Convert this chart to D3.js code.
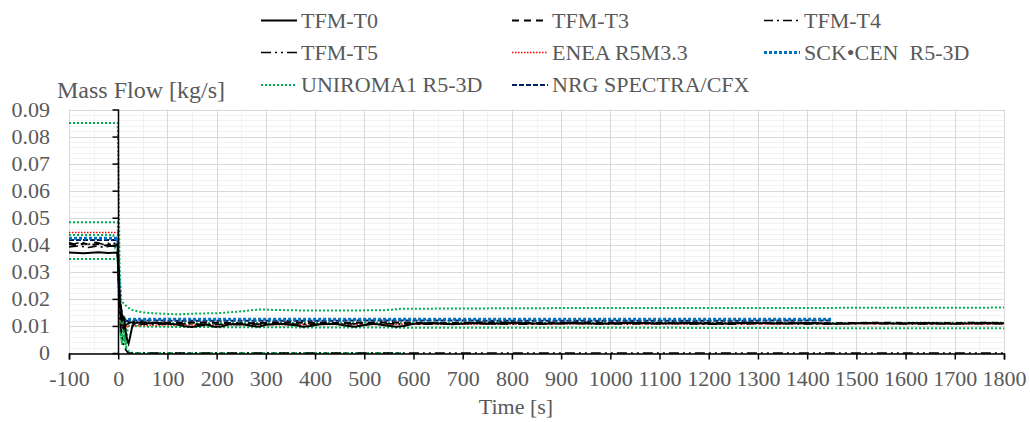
<!DOCTYPE html>
<html>
<head>
<meta charset="utf-8">
<title>Mass Flow</title>
<script src="https://cdn.jsdelivr.net/npm/d3@7"></script>
<style>
  body { margin: 0; background: #fff; }
</style>
</head>
<body>
<script>
// ticks
var xTicks = [-100, 0, 100, 200, 300, 400, 500, 600, 700, 800, 900, 1000, 1100, 1200, 1300, 1400, 1500, 1600, 1700, 1800];
var yTicks = [0, 0.01, 0.02, 0.03, 0.04, 0.05, 0.06, 0.07, 0.08, 0.09];

// series values [time s, mass flow kg/s]
var tfmT0 = [[-100,0.0371],[-70,0.0369],[-40,0.0372],[-20,0.0370],[-2,0.0371],[1,0.030],[3,0.0195],[6,0.0165],[9,0.012],[12,0.0135],[15,0.008],[18,0.005],[21,0.0035],[24,0.0058],[28,0.0094],[32,0.0108],[40,0.0113],[60,0.0110],[80,0.0112],[100,0.0108],[120,0.0105],[135,0.0099],[150,0.0096],[165,0.0101],[180,0.0105],[195,0.0097],[210,0.0098],[225,0.0106],[250,0.0107],[270,0.0101],[285,0.0097],[300,0.0104],[330,0.0108],[360,0.0103],[375,0.0097],[390,0.0100],[410,0.0106],[440,0.0108],[465,0.0101],[480,0.0097],[495,0.0102],[520,0.0108],[545,0.0102],[565,0.0097],[580,0.0100],[600,0.0108],[640,0.0111],[680,0.0106],[720,0.0111],[760,0.0108],[800,0.0112],[860,0.0108],[920,0.0111],[980,0.0108],[1040,0.0112],[1100,0.0109],[1160,0.0111],[1220,0.0108],[1280,0.0112],[1340,0.0109],[1400,0.0111],[1460,0.0108],[1520,0.0111],[1580,0.0109],[1640,0.0111],[1700,0.0108],[1760,0.0111],[1800,0.0110]];
var tfmT3 = [[-100,0.0402],[-85,0.0398],[-70,0.0405],[-55,0.0399],[-40,0.0404],[-25,0.0397],[-10,0.0403],[-1,0.0400],[2,0.022],[6,0.013],[10,0.009],[14,0.0115],[20,0.0112],[40,0.0114],[80,0.0111],[150,0.0113],[250,0.0110],[350,0.0113],[450,0.0111],[550,0.0113],[650,0.0110],[750,0.0113],[850,0.0111],[950,0.0113],[1050,0.0110],[1150,0.0112],[1250,0.0110],[1350,0.0112],[1450,0.0110],[1550,0.0112],[1650,0.0110],[1750,0.0112],[1800,0.0111]];
var tfmT4 = [[-100,0.0392],[-80,0.0396],[-60,0.0390],[-45,0.0395],[-30,0.0391],[-15,0.0396],[-1,0.0393],[2,0.020],[6,0.012],[10,0.0085],[15,0.0105],[22,0.0109],[50,0.0106],[120,0.0108],[220,0.0105],[320,0.0108],[420,0.0106],[520,0.0109],[620,0.0106],[720,0.0109],[820,0.0106],[920,0.0109],[1020,0.0107],[1120,0.0109],[1220,0.0106],[1320,0.0109],[1420,0.0107],[1520,0.0109],[1620,0.0107],[1720,0.0109],[1800,0.0108]];
var tfmT5 = [[-100,0.0408],[-90,0.0403],[-75,0.0410],[-60,0.0402],[-45,0.0409],[-30,0.0401],[-15,0.0407],[-1,0.0404],[2,0.016],[6,0.008],[12,0.002],[20,0],[1800,0]];
var enea = [[-100,0.0445],[-1,0.0445],[1,0.030],[4,0.016],[8,0.0095],[14,0.0098],[25,0.0101],[80,0.0103],[200,0.0104],[400,0.0105],[600,0.0106],[900,0.0107],[1200,0.0107],[1500,0.0108],[1800,0.0107]];
var sckcen = [[-100,0.0424],[-1,0.0424],[1,0.030],[4,0.018],[8,0.013],[14,0.0123],[30,0.0125],[200,0.0125],[600,0.0125],[1000,0.0125],[1450,0.0125]];
var nrg = [[-100,0.0418],[-1,0.0418],[1,0.028],[4,0.016],[8,0.012],[15,0.0118],[40,0.0120],[200,0.0119],[600,0.0120],[1000,0.0119],[1450,0.0120]];
var uniA = [[-100,0.0850],[-1,0.0850],[1,0.060],[3,0.030],[6,0.020],[10,0.0185],[14,0.0178],[20,0.0168],[30,0.0158],[50,0.0150],[80,0.0146],[120,0.0143],[160,0.0146],[200,0.0147],[240,0.0152],[270,0.0158],[290,0.0161],[320,0.0159],[380,0.0157],[450,0.0157],[540,0.0158],[580,0.0164],[640,0.0164],[760,0.0165],[900,0.0166],[1100,0.0166],[1300,0.0166],[1500,0.0167],[1700,0.0167],[1800,0.0168]];
var uniB = [[-100,0.0483],[-1,0.0483],[1,0.032],[4,0.015],[7,0.006],[10,0.014],[13,0.004],[17,0.012],[22,0.0112],[40,0.0114],[100,0.0110],[300,0.0111],[600,0.0112],[900,0.0111],[1200,0.0112],[1500,0.0111],[1800,0.0112]];
var uniC = [[-100,0.0436],[-10,0.0436],[-6,0.0392],[-3,0.0402],[-1,0.0388],[1,0.025],[4,0.009],[8,0.003],[12,0.010],[16,0.0015],[20,0.011],[30,0.0100],[60,0.0097],[150,0.0096],[300,0.0095],[500,0.0094],[800,0.0093],[1100,0.0093],[1400,0.0092],[1800,0.0091]];
var uniD = [[-100,0.0347],[-1,0.0347],[1,0.020],[4,0.008],[8,0.0035],[12,0.007],[16,0.002],[22,0.0005],[30,0],[580,0]];

var series = [
  {name: "TFM-T0", data: tfmT0, color: "#000000", width: 2, dash: null},
  {name: "TFM-T3", data: tfmT3, color: "#000000", width: 2, dash: "7,5"},
  {name: "TFM-T4", data: tfmT4, color: "#000000", width: 1.6, dash: "9,4,2,4"},
  {name: "TFM-T5", data: tfmT5, color: "#000000", width: 1.6, dash: "10,4,2,4,2,4"},
  {name: "ENEA R5M3.3", data: enea, color: "#ff0000", width: 1.5, dash: "1.5,1.5"},
  {name: "SCK\u2022CEN  R5-3D", data: sckcen, color: "#0070c0", width: 3, dash: "3,2"},
  {name: "UNIROMA1 R5-3D", data: uniA, color: "#00b050", width: 2, dash: "2,2"},
  {name: "NRG SPECTRA/CFX", data: nrg, color: "#002060", width: 2, dash: "5,2"},
  {name: null, data: uniB, color: "#00b050", width: 2, dash: "2,2"},
  {name: null, data: uniC, color: "#00b050", width: 2, dash: "2,2"},
  {name: null, data: uniD, color: "#00b050", width: 2, dash: "2,2"}
];
// legend order (3 columns)
var legendOrder = ["TFM-T0", "TFM-T3", "TFM-T4", "TFM-T5", "ENEA R5M3.3", "SCK\u2022CEN  R5-3D", "UNIROMA1 R5-3D", "NRG SPECTRA/CFX"];

var FONT = "'Liberation Serif'";
var TXT = "#595959";
var W = 1030, H = 422;
var svg = d3.select("body").append("svg").attr("width", W).attr("height", H);

var x = d3.scaleLinear().domain([-100, 1800]).range([69, 1004]);
var y = d3.scaleLinear().domain([0, 0.09]).range([353, 109.5]);

// minor grid
var minorX = d3.range(-50, 1800, 100);
var minorY = d3.range(0.002, 0.09, 0.002).filter(function(v){ return Math.abs(v*100 - Math.round(v*100)) > 1e-6; });
svg.append("g").selectAll("line").data(minorY).enter().append("line")
  .attr("x1", x(-100)).attr("x2", x(1800))
  .attr("y1", function(d){ return Math.round(y(d)) + 0.5; })
  .attr("y2", function(d){ return Math.round(y(d)) + 0.5; })
  .attr("stroke", "#f2f2f2");
svg.append("g").selectAll("line").data(minorX).enter().append("line")
  .attr("x1", function(d){ return Math.round(x(d)) + 0.5; })
  .attr("x2", function(d){ return Math.round(x(d)) + 0.5; })
  .attr("y1", y(0)).attr("y2", y(0.09))
  .attr("stroke", "#f2f2f2");
// major grid
svg.append("g").selectAll("line").data(yTicks).enter().append("line")
  .attr("x1", x(-100)).attr("x2", x(1800))
  .attr("y1", function(d){ return Math.round(y(d)) + 0.5; })
  .attr("y2", function(d){ return Math.round(y(d)) + 0.5; })
  .attr("stroke", "#d9d9d9");
svg.append("g").selectAll("line").data(xTicks).enter().append("line")
  .attr("x1", function(d){ return Math.round(x(d)) + 0.5; })
  .attr("x2", function(d){ return Math.round(x(d)) + 0.5; })
  .attr("y1", y(0)).attr("y2", y(0.09))
  .attr("stroke", "#d9d9d9");

// lines
var line = d3.line().x(function(d){ return x(d[0]); }).y(function(d){ return y(d[1]); });
svg.append("g").selectAll("path").data(series.slice().reverse()).enter().append("path")
  .attr("d", function(d){ return line(d.data); })
  .attr("fill", "none")
  .attr("stroke", function(d){ return d.color; })
  .attr("stroke-width", function(d){ return d.width; })
  .attr("stroke-dasharray", function(d){ return d.dash; });

// axes
var xAxis = d3.axisBottom(x).tickValues(xTicks).tickSize(6).tickFormat(function(d){ return d; });
var gx = svg.append("g").attr("transform", "translate(0," + (Math.round(y(0)) + 0.5) + ")").call(xAxis);
gx.select(".domain").attr("stroke", "#000").attr("stroke-width", 1.5);
gx.selectAll(".tick line").attr("stroke", "#000").attr("stroke-width", 1.5);
gx.selectAll(".tick text").attr("y", 32).attr("dy", 0).attr("fill", TXT)
  .style("font-family", FONT).style("font-size", "22px");

var yAxis = d3.axisLeft(y).tickValues(yTicks).tickSize(6).tickFormat(function(){ return ""; });
var gy = svg.append("g").attr("transform", "translate(" + (Math.round(x(0)) + 0.5) + ",0)").call(yAxis);
gy.select(".domain").attr("stroke", "#000").attr("stroke-width", 1.5).attr("d", "M0," + y(0.09) + "V" + y(0));
gy.selectAll(".tick line").attr("stroke", "#000").attr("stroke-width", 1.5);

svg.append("g").selectAll("text").data(yTicks).enter().append("text")
  .attr("x", 50).attr("y", function(d){ return y(d); }).attr("dy", "0.34em")
  .attr("text-anchor", "end").attr("fill", TXT)
  .style("font-family", FONT).style("font-size", "22px")
  .text(function(d){ return d === 0 ? "0" : d.toFixed(2); });

// titles
svg.append("text").attr("x", 57).attr("y", 98).attr("fill", TXT)
  .style("font-family", FONT).style("font-size", "24px").text("Mass Flow [kg/s]");
svg.append("text").attr("x", 516).attr("y", 414).attr("text-anchor", "middle").attr("fill", TXT)
  .style("font-family", FONT).style("font-size", "22px").text("Time [s]");

// legend
var colX = [261, 512, 764], rowY = [20.5, 52.5, 85];
var leg = svg.append("g").selectAll("g").data(legendOrder).enter().append("g")
  .attr("transform", function(d, i){ return "translate(" + colX[i % 3] + "," + rowY[Math.floor(i / 3)] + ")"; });
leg.append("line").attr("x1", 0).attr("x2", 36).attr("y1", 0).attr("y2", 0)
  .each(function(name){
    var s = series.filter(function(e){ return e.name === name; })[0];
    d3.select(this).attr("stroke", s.color).attr("stroke-width", s.width).attr("stroke-dasharray", s.dash);
  });
leg.append("text").attr("x", 40).attr("y", 0).attr("dy", "0.34em").attr("fill", TXT)
  .style("font-family", FONT).style("font-size", "22px").style("white-space", "pre")
  .text(function(d){ return d; });
</script>
</body>
</html>
